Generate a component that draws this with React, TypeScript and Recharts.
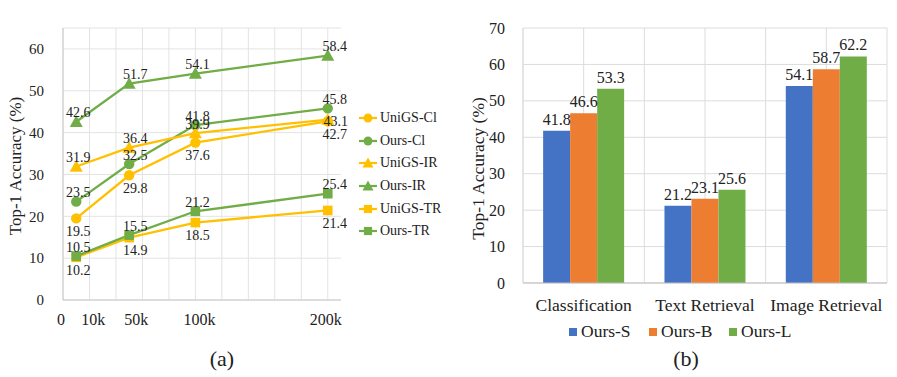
import React from 'react'
import {
  LineChart, Line, BarChart, Bar, XAxis, YAxis, CartesianGrid, Legend, LabelList,
} from 'recharts'

const FONT = '"Liberation Serif", "Times New Roman", serif'
const TEXT = '#222'
const YELLOW = '#FFC000'
const GREEN = '#70AD47'

// (a) training data size vs accuracy
const dataSizes = [10000, 50000, 100000, 200000]
const uniGsCl = [19.5, 29.8, 37.6, 42.7]
const oursCl = [23.5, 32.5, 41.8, 45.8]
const uniGsIr = [31.9, 36.4, 39.9, 43.1]
const oursIr = [42.6, 51.7, 54.1, 58.4]
const uniGsTr = [10.2, 14.9, 18.5, 21.4]
const oursTr = [10.5, 15.5, 21.2, 25.4]

const sizeTicks = [0, 10000, 50000, 100000, 200000]
const sizeTickLabels = ['0', '10k', '50k', '100k', '200k']
const accTicksA = [0, 10, 20, 30, 40, 50, 60]

// (b) model scale per task
const tasks = ['Classification', 'Text Retrieval', 'Image Retrieval']
const oursS = [41.8, 21.2, 54.1]
const oursB = [46.6, 23.1, 58.7]
const oursL = [53.3, 25.6, 62.2]
const accTicksB = [0, 10, 20, 30, 40, 50, 60, 70]

const lineRows = dataSizes.map((size, i) => ({
  size,
  uniGsCl: uniGsCl[i],
  oursCl: oursCl[i],
  uniGsIr: uniGsIr[i],
  oursIr: oursIr[i],
  uniGsTr: uniGsTr[i],
  oursTr: oursTr[i],
}))

const barRows = tasks.map((task, i) => ({ task, oursS: oursS[i], oursB: oursB[i], oursL: oursL[i] }))

type Shape = 'circle' | 'triangle' | 'square'

const seriesA: { key: string; name: string; color: string; shape: Shape; place: string[] }[] = [
  { key: 'uniGsCl', name: 'UniGS-Cl', color: YELLOW, shape: 'circle', place: ['bottom', 'bottom', 'bottom', 'bottom'] },
  { key: 'oursCl', name: 'Ours-Cl', color: GREEN, shape: 'circle', place: ['top', 'top', 'top', 'top'] },
  { key: 'uniGsIr', name: 'UniGS-IR', color: YELLOW, shape: 'triangle', place: ['top', 'top', 'top', 'mid'] },
  { key: 'oursIr', name: 'Ours-IR', color: GREEN, shape: 'triangle', place: ['top', 'top', 'top', 'top'] },
  { key: 'uniGsTr', name: 'UniGS-TR', color: YELLOW, shape: 'square', place: ['bottom', 'bottom', 'bottom', 'bottom'] },
  { key: 'oursTr', name: 'Ours-TR', color: GREEN, shape: 'square', place: ['top', 'top', 'top', 'top'] },
]

const labelDx = [2, 6, 2, 7]
const tickDx = [-2, 17, 7, 4, -2]

function Marker({ cx, cy, shape, color, s = 1 }: { cx: number; cy: number; shape: Shape; color: string; s?: number }) {
  if (shape === 'circle') return <circle cx={cx} cy={cy} r={5.2 * s} fill={color} />
  if (shape === 'triangle') {
    const h = 6.5 * s
    return <polygon points={`${cx},${cy - h} ${cx + h},${cy + h * 0.8} ${cx - h},${cy + h * 0.8}`} fill={color} />
  }
  const h = 4.8 * s
  return <rect x={cx - h} y={cy - h} width={h * 2} height={h * 2} fill={color} />
}

const makeDot = (shape: Shape, color: string, name: string) => (p: any) => (
  <Marker key={`${name}-${p.index}`} cx={p.cx} cy={p.cy} shape={shape} color={color} />
)

const makeLabel = (place: string[]) => (p: any) => {
  const i = p.index
  const where = place[i]
  let x = p.x + labelDx[i]
  let y = where === 'top' ? p.y - 9 : p.y + 13
  if (where === 'mid') {
    x = p.x + 8
    y = p.y + 2
  }
  return (
    <text x={x} y={y} textAnchor="middle" dominantBaseline="central" fontSize={14} fill={TEXT} style={{ fontFamily: FONT }}>
      {p.value}
    </text>
  )
}

const SizeTick = (p: any) => {
  const i = sizeTicks.indexOf(p.payload.value)
  return (
    <text x={p.x + tickDx[i]} y={p.y} dy="0.71em" textAnchor="middle" fontSize={16} fill={TEXT} style={{ fontFamily: FONT }}>
      {sizeTickLabels[i]}
    </text>
  )
}

const LeftTick = (p: any) => (
  <text x={p.x} y={p.y} dy="0.35em" textAnchor="end" fontSize={p.fs} fill={TEXT} style={{ fontFamily: FONT }}>
    {p.payload.value}
  </text>
)

const BottomTick = (p: any) => (
  <text x={p.x} y={p.y} dy="0.71em" textAnchor="middle" fontSize={17.5} fill={TEXT} style={{ fontFamily: FONT }}>
    {p.payload.value}
  </text>
)

const yTitle = (dy: number, dx: number, size: number) => (p: any) => {
  const vb = p.viewBox
  const x = vb.x + dx
  const y = vb.y + vb.height / 2 + dy
  return (
    <text x={x} y={y} transform={`rotate(-90 ${x} ${y})`} textAnchor="middle" dominantBaseline="central"
      fontSize={size} fill={TEXT} style={{ fontFamily: FONT }}>
      Top-1 Accuracy (%)
    </text>
  )
}

const LineLegend = () => (
  <div style={{ fontFamily: FONT, fontSize: 14, color: TEXT }}>
    {seriesA.map((s) => (
      <div key={s.key} style={{ display: 'flex', alignItems: 'center', height: 22.6 }}>
        <svg width={20} height={14} style={{ marginRight: 2 }}>
          <line x1={1} y1={7} x2={19} y2={7} stroke={s.color} strokeWidth={2.2} />
          <Marker cx={10} cy={7} shape={s.shape} color={s.color} s={0.85} />
        </svg>
        <span style={{ fontFamily: FONT }}>{s.name}</span>
      </div>
    ))}
  </div>
)

const barSeries = [
  { key: 'oursS', name: 'Ours-S', color: '#4472C4' },
  { key: 'oursB', name: 'Ours-B', color: '#ED7D31' },
  { key: 'oursL', name: 'Ours-L', color: GREEN },
]

const BarLegend = () => (
  <div style={{ display: 'flex', fontFamily: FONT, fontSize: 17.5, color: TEXT, whiteSpace: 'nowrap' }}>
    {barSeries.map((s) => (
      <div key={s.key} style={{ display: 'flex', alignItems: 'center', width: 80 }}>
        <span style={{ display: 'inline-block', width: 8, height: 8, background: s.color, marginRight: 4 }} />
        <span style={{ fontFamily: FONT }}>{s.name}</span>
      </div>
    ))}
  </div>
)

export default function App() {
  return (
    <div style={{ position: 'absolute', left: 0, top: 0, width: 897, height: 377, background: '#fff', fontFamily: FONT }}>
      <div style={{ position: 'absolute', left: 0, top: 0 }}>
        <LineChart width={460} height={377} data={lineRows} margin={{ top: 28, right: 119, bottom: 47, left: 15 }}
          style={{ fontFamily: FONT }}>
          <CartesianGrid
            stroke="#e3e3e3"
            horizontal
            verticalCoordinatesGenerator={({ xAxis, offset }: any) =>
              [0, 20000, 40000, 60000, 80000, 100000, 120000, 140000, 160000, 180000, 200000].map((v) =>
                typeof xAxis?.scale === 'function' ? xAxis.scale(v) : offset.left + (offset.width * v) / 210000
              )
            }
          />
          <XAxis
            dataKey="size"
            type="number"
            domain={[0, 210000]}
            ticks={sizeTicks}
            interval={0}
            tick={<SizeTick />}
            tickLine={false}
            tickSize={6}
            tickMargin={8}
            axisLine={{ stroke: '#c8c8c8' }}
            height={30}
          />
          <YAxis
            type="number"
            domain={[0, 65]}
            ticks={accTicksA}
            interval={0}
            width={48}
            tickLine={false}
            tickSize={6}
            tickMargin={13}
            axisLine={{ stroke: '#c8c8c8' }}
            tick={<LeftTick fs={15} />}
            label={{ content: yTitle(2, 0, 17) }}
          />
          <Legend
            layout="vertical"
            align="center"
            verticalAlign="middle"
            wrapperStyle={{ left: 358, top: 107, width: 100 }}
            content={<LineLegend />}
          />
          {seriesA.map((s) => (
            <Line
              key={s.key}
              dataKey={s.key}
              name={s.name}
              stroke={s.color}
              strokeWidth={2.3}
              dot={makeDot(s.shape, s.color, s.key)}
              activeDot={false}
              isAnimationActive={false}
            >
              <LabelList dataKey={s.key} content={makeLabel(s.place)} />
            </Line>
          ))}
        </LineChart>
        <div style={{ position: 'absolute', left: 202, top: 346, width: 40, textAlign: 'center', fontSize: 22, color: TEXT, fontFamily: FONT }}>
          (a)
        </div>
      </div>

      <div style={{ position: 'absolute', left: 440, top: 0 }}>
        <BarChart width={457} height={377} data={barRows} margin={{ top: 28, right: 10, bottom: 64, left: 33 }}
          barCategoryGap="16.6%" barGap={0} style={{ fontFamily: FONT }}>
          <CartesianGrid
            stroke="#dcdcdc"
            horizontal
            verticalCoordinatesGenerator={({ offset }: any) =>
              [0, 1, 2, 3, 4, 5, 6].map((k) => offset.left + (offset.width * k) / 6)
            }
          />
          <XAxis
            dataKey="task"
            tickLine={false}
            tickSize={6}
            tickMargin={10}
            axisLine={{ stroke: '#bfbfbf' }}
            tick={<BottomTick />}
            interval={0}
            height={30}
          />
          <YAxis
            type="number"
            domain={[0, 70]}
            ticks={accTicksB}
            interval={0}
            width={50}
            tickLine={false}
            tickSize={6}
            tickMargin={12}
            axisLine={{ stroke: '#dcdcdc' }}
            tick={<LeftTick fs={16} />}
            label={{ content: yTitle(13, 5, 17.5) }}
          />
          <Legend
            layout="vertical"
            align="center"
            verticalAlign="middle"
            wrapperStyle={{ left: 129, top: 321, width: 250 }}
            content={<BarLegend />}
          />
          {barSeries.map((s) => (
            <Bar key={s.key} dataKey={s.key} name={s.name} fill={s.color} isAnimationActive={false}>
              <LabelList dataKey={s.key} position="top" offset={6} style={{ fontSize: 16, fill: TEXT, fontFamily: FONT }} />
            </Bar>
          ))}
        </BarChart>
        <div style={{ position: 'absolute', left: 226, top: 346, width: 40, textAlign: 'center', fontSize: 22, color: TEXT, fontFamily: FONT }}>
          (b)
        </div>
      </div>
    </div>
  )
}
